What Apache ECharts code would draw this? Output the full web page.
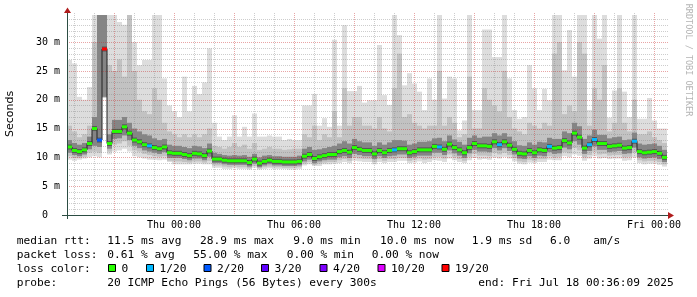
<!DOCTYPE html>
<html><head><meta charset="utf-8">
<script src="https://cdn.jsdelivr.net/npm/echarts@6/dist/echarts.min.js"></script>
<style>html,body{margin:0;padding:0;background:#fff}#c{width:697px;height:297px}</style>
</head><body><div id="c"></div>
<script>
// time axis in hours relative to Thu 00:00
const startHour = -5.35;
const stepHours = 0.25;
const endHour = 24.65;
const xTickValues = [0, 6, 12, 18, 24];
const xTickLabels = ['Thu 00:00', 'Thu 06:00', 'Thu 12:00', 'Thu 18:00', 'Fri 00:00'];
const yTickValues = [0, 5, 10, 15, 20, 25, 30];
const yTickLabels = ['0  ', '5 m', '10 m', '15 m', '20 m', '25 m', '30 m'];
const xGridHours = [-5,-4,-3,-2,-1,0,1,2,3,4,5,6,7,8,9,10,11,12,13,14,15,16,17,18,19,20,21,22,23,24];
const yGridValues = [1,2,3,4,5,6,7,8,9,10,11,12,13,14,15,16,17,18,19,20,21,22,23,24,25,26,27,28,29,30,31,32,33,34];

const median = [
 11.8,11.2,11.0,11.3,12.4,15.0,13.0,28.8,12.4,14.5,
 14.5,15.3,14.2,13.0,12.7,12.2,12.0,11.7,11.5,11.8,
 10.8,10.7,10.7,10.5,10.3,10.7,10.6,10.3,11.1,9.7,
 9.7,9.5,9.4,9.4,9.4,9.4,9.1,9.7,9.0,9.3,
 9.5,9.3,9.3,9.2,9.2,9.2,9.3,10.2,10.5,9.8,
 10.1,10.3,10.5,10.5,11.0,11.2,10.9,11.7,11.4,11.2,
 11.2,10.6,11.2,10.8,11.2,11.3,11.5,11.5,10.8,11.0,
 11.3,11.3,11.3,11.9,11.8,11.4,12.3,11.7,11.3,10.8,
 11.7,12.4,12.0,12.0,11.9,12.7,12.2,12.7,12.1,11.4,
 10.7,10.6,11.2,10.8,11.3,11.2,11.9,11.6,11.7,12.9,
 12.5,14.2,13.5,11.6,12.2,13.1,12.4,12.4,11.9,12.0,
 12.1,11.6,11.7,12.8,11.0,10.8,10.9,11.0,10.7,10.0];
// loss bucket index per step (0 = no loss)
const loss = [
 0,0,0,0,0,0,2,6,0,0, 0,0,0,0,0,0,1,0,0,0, 0,0,0,0,0,0,0,0,0,0,
 0,0,0,0,0,0,0,0,0,0, 0,0,0,0,0,0,0,0,0,0, 0,0,0,0,0,0,0,0,0,0,
 0,0,0,0,0,1,0,0,0,0, 0,0,0,0,1,0,0,0,0,0, 0,0,0,0,0,0,1,0,0,0,
 0,0,0,0,0,0,1,0,0,0, 0,0,0,0,1,1,0,0,0,0, 0,0,0,1,0,0,0,0,0,0];
const smokeMax = [
 26.9,26.3,20.5,20.0,22.2,34.7,34.7,34.7,34.7,34.7,
 33.5,33.0,34.7,30.0,26.0,26.9,26.9,34.7,34.7,23.7,
 19.0,18.0,17.0,24.0,18.0,22.4,21.0,23.0,28.9,16.0,
 13.6,13.0,13.6,17.3,13.6,15.3,13.6,17.6,13.6,13.6,
 13.8,13.6,13.6,13.0,13.2,13.0,13.0,19.0,19.0,21.0,
 15.5,16.8,15.3,30.4,15.5,32.9,21.5,21.5,22.4,19.5,
 19.9,19.9,29.5,20.8,19.1,34.7,31.2,22.5,24.6,22.8,
 21.4,18.2,23.7,20.0,34.7,20.2,24.0,23.7,14.7,16.4,
 34.7,18.2,18.2,32.2,32.2,27.4,27.4,34.7,23.7,18.2,
 16.7,17.0,26.0,22.0,18.2,21.9,19.9,34.7,34.7,25.1,
 32.1,24.0,34.7,34.7,18.2,34.7,30.6,34.7,16.9,21.6,
 34.7,21.4,17.0,34.7,16.7,16.7,20.3,16.4,15.0,15.0];
const smokeMid = [
 15.5,14.5,13.5,14.0,15.5,30.0,34.7,34.7,26.0,25.0,
 27.0,24.0,34.7,25.0,20.0,18.0,17.5,22.0,20.0,16.0,
 14.5,14.0,13.5,14.0,13.5,14.0,13.5,14.0,15.0,12.0,
 11.8,11.5,11.8,12.5,11.8,12.2,11.5,12.5,11.3,11.5,
 11.8,11.5,11.5,11.3,11.4,11.5,11.5,14.0,13.5,15.5,
 13.0,14.0,13.5,18.0,13.5,22.0,15.5,17.0,17.0,15.5,
 15.5,15.0,17.0,15.0,14.5,22.0,28.0,17.0,17.5,16.0,
 15.5,15.0,15.5,15.5,25.0,15.5,17.0,16.0,13.5,14.0,
 24.0,15.0,15.0,22.0,20.0,19.0,18.0,25.0,17.0,15.0,
 14.5,14.0,16.0,15.5,15.0,16.0,15.5,28.0,30.0,17.5,
 19.0,18.0,30.0,28.0,15.5,22.0,20.0,26.0,14.5,16.0,
 22.0,16.0,14.5,20.0,14.0,14.0,14.5,13.5,13.0,12.5];
const darkHi = [
 13.0,12.5,12.2,12.5,13.6,17.0,34.7,34.7,14.0,16.5,
 16.5,17.0,16.0,15.0,14.5,14.0,13.8,13.3,13.0,13.2,
 12.2,12.0,12.0,11.8,11.6,12.0,11.9,11.6,12.4,10.8,
 10.6,10.4,10.3,10.4,10.3,10.4,10.1,10.6,10.0,10.3,
 10.4,10.2,10.2,10.1,10.1,10.1,10.3,11.5,11.8,11.3,
 11.4,11.6,11.8,12.0,12.4,12.8,12.4,13.2,12.8,12.6,
 12.6,12.0,12.6,12.2,12.6,13.0,13.0,12.9,12.2,12.4,
 12.7,12.7,12.8,13.3,13.4,12.8,13.8,13.1,12.7,12.2,
 13.4,13.8,13.4,13.6,13.6,14.2,13.8,14.2,13.6,12.8,
 12.1,12.0,12.6,12.2,12.7,12.6,13.4,13.2,13.2,14.5,
 14.2,16.0,15.4,13.2,13.8,14.8,13.9,13.9,13.3,13.5,
 13.6,13.0,13.1,14.3,12.4,12.2,12.3,12.4,12.0,11.3];
const darkLo = [
 10.8,10.4,10.2,10.5,11.4,12.0,11.8,20.5,11.5,13.2,
 13.3,13.8,13.0,12.0,11.6,11.2,11.0,10.8,10.6,10.9,
 9.9,9.9,9.9,9.7,9.5,9.8,9.8,9.5,10.1,9.0,
 9.0,8.8,8.7,8.7,8.7,8.7,8.4,8.9,8.3,8.6,
 8.8,8.6,8.6,8.5,8.5,8.5,8.6,9.3,9.6,9.0,
 9.3,9.5,9.6,9.6,10.0,10.2,9.9,10.6,10.4,10.2,
 10.2,9.7,10.2,9.9,10.2,10.3,10.5,10.5,9.9,10.1,
 10.3,10.3,10.3,10.8,10.8,10.4,11.2,10.7,10.3,9.9,
 10.7,11.3,11.0,11.0,10.9,11.6,11.2,11.6,11.1,10.5,
 9.8,9.7,10.2,9.9,10.3,10.2,10.9,10.6,10.7,11.7,
 11.4,12.8,12.2,10.6,11.1,11.9,11.3,11.3,10.9,11.0,
 11.1,10.6,10.7,11.7,10.0,9.8,9.9,10.0,9.7,9.2];
const midLo = [
 10.2,9.9,9.9,10.1,10.8,11.0,10.8,20.4,11.0,12.2,
 12.4,12.8,12.0,11.2,11.0,10.6,10.4,10.2,10.1,10.2,
 9.4,9.3,9.3,9.2,9.1,9.3,9.3,9.1,9.4,8.6,
 8.6,8.4,8.3,8.4,8.3,8.3,8.1,8.5,8.1,8.3,
 8.4,8.3,8.3,8.2,8.2,8.2,8.3,8.9,9.2,8.7,
 8.9,9.1,9.2,9.2,9.5,9.7,9.4,10.0,9.8,9.7,
 9.7,9.2,9.7,9.4,9.7,9.7,9.9,9.9,9.4,9.6,
 9.8,9.6,9.7,10.1,10.1,9.8,10.5,10.1,9.7,9.4,
 10.1,10.6,10.3,10.3,10.2,10.8,10.5,10.8,10.4,9.9,
 9.3,9.2,9.6,9.4,9.7,9.7,10.2,10.0,10.1,10.9,
 10.7,11.6,11.2,10.0,10.4,11.0,10.5,10.6,10.3,10.4,
 10.4,10.0,10.1,10.8,9.5,9.3,9.4,9.4,9.2,8.8];
const smokeMin = [
 9.6,9.4,9.6,9.8,10.0,10.2,10.0,20.3,10.5,11.0,
 11.2,11.5,11.0,10.2,10.0,9.8,9.6,9.6,9.5,9.6,
 9.2,8.8,8.8,8.8,8.8,8.9,8.9,8.8,8.8,8.2,
 8.2,8.0,8.0,8.1,8.0,8.0,7.9,8.2,7.9,8.0,
 8.1,8.0,8.0,8.0,7.9,7.9,8.0,8.6,8.8,8.5,
 8.5,8.8,8.8,8.9,9.0,9.2,9.0,9.4,9.3,9.2,
 9.2,8.8,9.2,9.0,9.2,9.2,9.4,9.4,9.0,9.1,
 9.3,9.0,9.2,9.5,9.4,9.2,9.8,9.5,9.2,9.0,
 9.5,9.9,9.6,9.7,9.6,10.0,9.8,10.1,9.8,9.3,
 8.9,8.8,9.1,9.0,9.2,9.2,9.6,9.5,9.5,10.2,
 10.0,10.5,10.3,9.4,9.8,10.2,9.8,9.9,9.7,9.8,
 9.8,9.4,9.5,10.0,9.0,8.8,8.9,8.9,8.7,8.4];

const lossColors = ['#26ff00', '#00b8ff', '#0059ff', '#5e00ff', '#7e00ff', '#dd00ff', '#ff0000'];
const lossLabels = ['0', '1/20', '2/20', '3/20', '4/20', '10/20', '19/20'];

const xs = median.map((_, i) => +(startHour + i * stepHours).toFixed(3));

function band(lo, hi, color, z) {
  return {
    type: 'custom', z: z, silent: true, animation: false, clip: true,
    data: lo.map((v, i) => [xs[i], v, hi[i]]),
    encode: { x: 0, y: [1, 2] },
    renderItem: function (params, api) {
      const x0 = api.value(0);
      const a = api.coord([x0, api.value(2)]);
      const b = api.coord([x0 + stepHours, api.value(1)]);
      return { type: 'rect', shape: { x: a[0], y: a[1], width: b[0] - a[0], height: b[1] - a[1] },
               style: { fill: color } };
    }
  };
}

const MINOR = 'rgba(130,130,130,0.4)';
const MAJOR = 'rgba(200,40,40,0.42)';

function gridSeries(values, vertical) {
  return {
    type: 'custom', z: 5, silent: true, clip: false,
    data: values.map(v => [v]),
    encode: vertical ? { x: 0 } : { y: 0 },
    renderItem: function (params, api) {
      const cs = params.coordSys;
      const v = api.value(0);
      const major = vertical ? (v % 3 === 0) : (v % 5 === 0);
      const stroke = major ? MAJOR : MINOR;
      if (vertical) {
        const p = api.coord([v, 0]);
        const x = Math.round(p[0]) + 0.5;
        return { type: 'line', shape: { x1: x, y1: cs.y - 2, x2: x, y2: cs.y + cs.height },
                 style: { stroke: stroke, lineWidth: 1, lineDash: [1, 1] } };
      }
      const p = api.coord([startHour, v]);
      const y = Math.round(p[1]) + 0.5;
      return { type: 'line', shape: { x1: cs.x, y1: y, x2: cs.x + cs.width + 1, y2: y },
               style: { stroke: stroke, lineWidth: 1, lineDash: [1, 1] } };
    }
  };
}

const stepLine = xs.map((x, i) => [x, median[i]]).concat([[endHour, median[median.length - 1]]]);

const mono = '"DejaVu Sans Mono", monospace';
const LF = '11.2px ' + mono;
function txt(t, x, y) {
  return { type: 'text', x: x, y: y, z: 100, silent: true,
    style: { text: t, font: LF, fill: '#000', align: 'left', verticalAlign: 'middle' } };
}
const legendY = [241, 255.5, 269.5, 283.5];
const graphics = [
  { type: 'line', z: 100, silent: true, shape: { x1: 62, y1: 215.5, x2: 668, y2: 215.5 }, style: { stroke: '#2c4d43', lineWidth: 1 } },
  { type: 'line', z: 100, silent: true, shape: { x1: 67.5, y1: 219, x2: 67.5, y2: 12 }, style: { stroke: '#2c4d43', lineWidth: 1 } },
  { type: 'polygon', z: 101, silent: true, shape: { points: [[668, 212], [668, 219], [674, 215.5]] }, style: { fill: '#b01c1c' } },
  { type: 'polygon', z: 101, silent: true, shape: { points: [[64, 13], [71, 13], [67.5, 7.5]] }, style: { fill: '#b01c1c' } },
  { type: 'text', x: 10.5, y: 114, rotation: Math.PI / 2, z: 100, silent: true,
    style: { text: 'Seconds', font: '11px "DejaVu Sans", sans-serif', fill: '#000', align: 'center', verticalAlign: 'middle' } },
  { type: 'text', x: 688.5, y: 60, rotation: -Math.PI / 2, z: 100, silent: true,
    style: { text: 'RRDTOOL / TOBI OETIKER', font: '8.5px ' + mono, fill: '#b4b4b4', align: 'center', verticalAlign: 'middle' } },
  txt('median rtt:', 16.7, legendY[0]),
  txt('11.5 ms avg', 107.3, legendY[0]),
  txt('28.9 ms max', 200, legendY[0]),
  txt('9.0 ms min', 293.3, legendY[0]),
  txt('10.0 ms now', 380, legendY[0]),
  txt('1.9 ms sd', 471.7, legendY[0]),
  txt('6.0', 550, legendY[0]),
  txt('am/s', 593.3, legendY[0]),
  txt('packet loss:', 16.7, legendY[1]),
  txt('0.61 % avg', 107.3, legendY[1]),
  txt('55.00 % max', 193.3, legendY[1]),
  txt('0.00 % min', 286.7, legendY[1]),
  txt('0.00 % now', 371.7, legendY[1]),
  txt('loss color:', 16.7, legendY[2]),
  txt('probe:', 16.7, legendY[3]),
  txt('20 ICMP Echo Pings (56 Bytes) every 300s', 107.3, legendY[3]),
  txt('end: Fri Jul 18 00:36:09 2025', 478.3, legendY[3])
];
const boxX = [108.5, 146.5, 204, 261.5, 320, 378, 442];
lossColors.forEach((c, k) => {
  graphics.push({ type: 'rect', z: 100, silent: true, shape: { x: boxX[k], y: 264.5, width: 7, height: 7 },
    style: { fill: c, stroke: '#000', lineWidth: 1 } });
  graphics.push(txt(lossLabels[k], boxX[k] + 13, legendY[2]));
});

const chart = echarts.init(document.getElementById('c'), null, { renderer: 'canvas' });
chart.setOption({
  animation: false,
  backgroundColor: '#ffffff',
  grid: { left: 67, right: 30, top: 15, bottom: 82, containLabel: false },
  xAxis: {
    type: 'value', min: startHour, max: endHour,
    axisLine: { show: false }, axisTick: { show: false }, splitLine: { show: false },
    axisLabel: { customValues: xTickValues, formatter: v => { const k = xTickValues.indexOf(v); return k < 0 ? '' : xTickLabels[k]; },
      fontFamily: 'DejaVu Sans Mono', fontSize: 10, color: '#000', margin: 5 }
  },
  yAxis: {
    type: 'value', min: 0, max: 34.7,
    axisLine: { show: false }, axisTick: { show: false }, splitLine: { show: false },
    axisLabel: { customValues: yTickValues, formatter: v => { const k = yTickValues.indexOf(v); return k < 0 ? '' : yTickLabels[k]; },
      fontFamily: 'DejaVu Sans Mono', fontSize: 10, color: '#000', margin: 7 }
  },
  series: [
    band(smokeMin, smokeMax, '#dddddd', 1),
    band(midLo, smokeMid, '#c2c2c2', 2),
    band(darkLo, darkHi, '#858585', 3),
    gridSeries(xGridHours, true),
    gridSeries(yGridValues, false),
    {
      type: 'line', z: 6, data: stepLine, step: 'end', symbol: 'none', silent: true,
      lineStyle: { color: '#222222', width: 1 }
    },
    {
      type: 'custom', z: 7, silent: true, clip: true,
      data: median.map((v, i) => [xs[i], v, loss[i]]),
      encode: { x: 0, y: 1 },
      renderItem: function (params, api) {
        const x0 = api.value(0);
        const a = api.coord([x0, api.value(1)]);
        const b = api.coord([x0 + stepHours, api.value(1)]);
        const col = lossColors[api.value(2)];
        return { type: 'group', children: [
          { type: 'rect', shape: { x: a[0], y: a[1] - 2.5, width: b[0] - a[0], height: 5 }, style: { fill: 'rgba(50,50,50,0.55)' } },
          { type: 'rect', shape: { x: a[0], y: a[1] - 1.5, width: b[0] - a[0], height: 3 }, style: { fill: col } }
        ] };
      }
    }
  ],
  graphic: graphics
});
</script>
</body></html>
